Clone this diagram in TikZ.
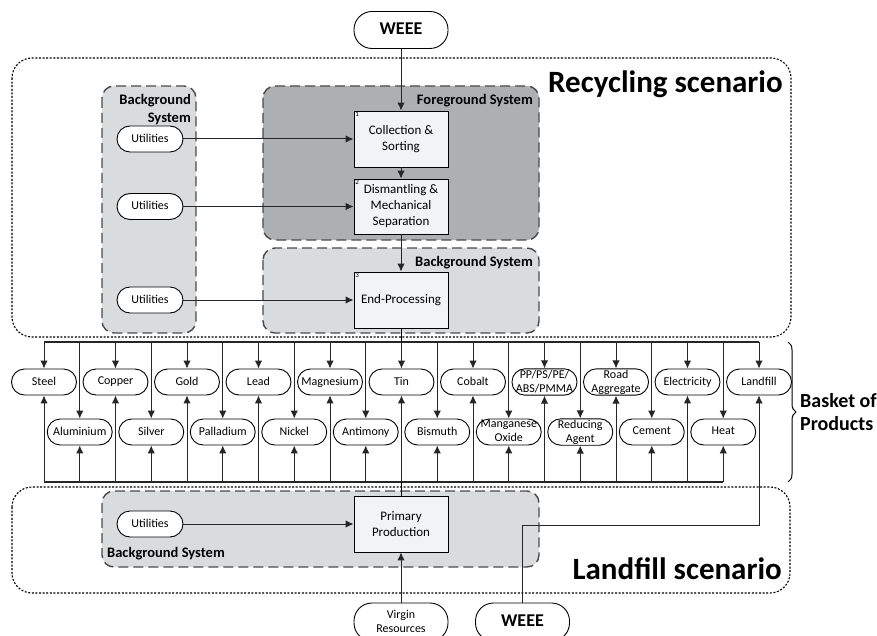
\documentclass[tikz,border=0pt]{standalone}
\usepackage{fontspec}
\setmainfont{Carlito}
\usetikzlibrary{arrows.meta}
\usetikzlibrary{positioning}
\usetikzlibrary{decorations.pathreplacing}

\definecolor{fgGrey}{HTML}{AEAFB1}
\definecolor{bgGrey}{HTML}{DADBDD}
\definecolor{procFill}{HTML}{F2F3F5}
\definecolor{dashGrey}{HTML}{4A4A4A}

\tikzset{
	scenario/.style={draw=black, line width=1.1pt, dash pattern=on 2pt off 1.6pt, rounded corners=20pt},
	sysbox/.style={draw=dashGrey, line width=1.4pt, dash pattern=on 10pt off 5pt, rounded corners=12pt},
	syslabel/.style={font=\bfseries\fontsize{14.5}{18}\selectfont, inner sep=0pt},
	process/.style={draw=black, line width=0.9pt, fill=procFill, minimum width=94pt, minimum height=56pt, inner sep=1pt, align=center, font=\fontsize{13}{16}\selectfont},
	flow/.style={draw=black, fill=white, line width=0.9pt, rounded corners=13pt, minimum width=66pt, minimum height=26pt, inner sep=1pt, align=center, font=\fontsize{12}{14}\selectfont, execute at begin node={\vphantom{Ag}}},
	product/.style={flow, minimum width=65pt},
	source/.style={flow, minimum width=94pt, minimum height=38pt, rounded corners=18pt},
	procnum/.style={font=\fontsize{7}{7}\selectfont, anchor=north west, inner sep=1.5pt},
	arr/.style={-{Latex[length=8pt,width=7.5pt]}, line width=1pt, draw=black!85},
	bus/.style={line width=1.6pt, draw=black!85},
}

\begin{document}
\begin{tikzpicture}[x=1pt, y=-1pt]
	\useasboundingbox (0,0) rectangle (877,636);
	
	% scenarios and systems
	\draw[scenario] (12,58) rectangle (791,337);
	\draw[scenario] (12,487) rectangle (790,593);
	\draw[sysbox, fill=bgGrey] (102,86) rectangle (196,333);
	\draw[sysbox, fill=fgGrey] (263,86) rectangle (539,240);
	\draw[sysbox, fill=bgGrey] (263,248) rectangle (539,333);
	\draw[sysbox, fill=bgGrey] (102,491) rectangle (539,567);
	
	\node[syslabel, anchor=north east, align=right] (bgleft) at (191,94) {Background\\System};
	\node[syslabel, anchor=base east] (fglabel) at (533,105) {Foreground System};
	\node[syslabel, anchor=base east] (bgmid) at (533,266) {Background System};
	\node[syslabel, anchor=base west] (bgbottom) at (107,557) {Background System};
	
	\node[font=\bfseries\fontsize{31}{34}\selectfont, anchor=base east, inner sep=0pt] (recyc) at (783,93) {Recycling scenario};
	\node[font=\bfseries\fontsize{31}{34}\selectfont, anchor=base east, inner sep=0pt] (landf) at (782,579) {Landfill scenario};
	
	% recycling chain
	\node[source, font=\bfseries\fontsize{18}{20}\selectfont, minimum height=37pt] (weee) at (401,30) {WEEE};
	\node[process] (collect) at (401,139) {Collection \&\\Sorting};
	\node[process, minimum height=55pt] (dismantle) at (401,206.5) {Dismantling \&\\Mechanical\\Separation};
	\node[process] (endproc) at (401,300) {End-Processing};
	\node[procnum] (num1) at (collect.north west) {1};
	\node[procnum] (num2) at (dismantle.north west) {2};
	\node[procnum] (num3) at (endproc.north west) {3};
	
	\foreach \y/\n in {139/1, 206.5/2, 300/3}{
		\node[flow] (util-\n) at (150,\y) {Utilities};
	}
	
	\draw[arr] (weee.south) -- (collect.north);
	\draw[arr] (collect.south) -- (dismantle.north);
	\draw[arr] (dismantle.south) -- (endproc.north);
	\draw[arr] (util-1.east) -- (collect.west);
	\draw[arr] (util-2.east) -- (dismantle.west);
	\draw[arr] (util-3.east) -- (endproc.west);
	
	% basket of products
	\foreach \p [count=\i from 0] in {Steel, Copper, Gold, Lead, Magnesium, Tin, Cobalt, {PP/PS/PE/\\ABS/PMMA}, {Road\\Aggregate}, Electricity, Landfill}{
		\node[product] (top-\i) at ({44+\i*71.5},382) {\p};
	}
	\foreach \p [count=\i from 0] in {Aluminium, Silver, Palladium, Nickel, Antimony, Bismuth, {Manganese\\Oxide}, {Reducing\\Agent}, Cement, Heat}{
		\node[product] (bot-\i) at ({79.75+\i*71.5},432) {\p};
	}
	
	\coordinate (bustop) at (401,342);
	\coordinate (busbot) at (401,482);
	\draw (endproc.south) -- (bustop);
	\draw[bus] (top-0 |- bustop) -- (top-10 |- bustop);
	\draw[bus] (top-0 |- busbot) -- (bot-9 |- busbot);
	\foreach \i in {0,...,10}{
		\draw[arr] (top-\i |- bustop) -- (top-\i.north);
	}
	\foreach \i in {0,...,9}{
		\draw[arr] (bot-\i |- bustop) -- (bot-\i.north);
		\draw[arr] (bot-\i |- busbot) -- (bot-\i.south);
		\draw[arr] (top-\i |- busbot) -- (top-\i.south);
	}
	
	\draw[decorate, decoration={brace, amplitude=8pt}, line width=1pt] (788,342) -- (788,482);
	\node[font=\bfseries\fontsize{20}{23}\selectfont, anchor=west, align=left, inner sep=0pt] (basket) at (800,412) {Basket of\\Products};
	
	% landfill chain
	\node[process] (primary) at (401,524) {Primary\\Production};
	\node[flow] (util-4) at (150,524) {Utilities};
	\node[source] (virgin) at (401,622) {Virgin\\Resources};
	\node[source, font=\bfseries\fontsize{18}{20}\selectfont] (weee2) at (522.5,622) {WEEE};
	\coordinate (elbow) at (522.5,525);
	
	\draw[arr] (util-4.east) -- (primary.west);
	\draw[arr] (virgin.north) -- (primary.south);
	\draw (primary.north) -- (busbot);
	\draw[arr, line width=0.8pt] (weee2.north) |- (top-10 |- elbow) -- (top-10.south);
\end{tikzpicture}
\end{document}
